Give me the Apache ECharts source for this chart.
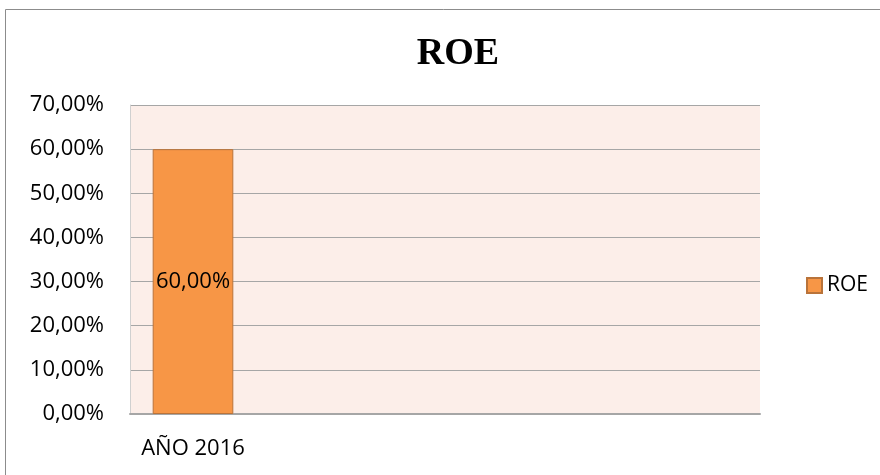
<!DOCTYPE html>
<html>
<head>
    <meta charset="utf-8" />
    <title>ROE</title>
    <script src="https://cdn.jsdelivr.net/npm/echarts@6/dist/echarts.min.js"></script>
    <style>
        body { margin: 0; background: #fff; }
        #chart { width: 880px; height: 475px; }
    </style>
</head>
<body>
    <div id="chart"></div>
    <script type="text/javascript">
        // datos
        var categorias = ['AÑO 2016', '', '', '', ''];
        var valoresROE = [60, null, null, null, null];
        var ticksY = [0, 10, 20, 30, 40, 50, 60, 70];

        function pct(v) {
            return v.toFixed(2).replace('.', ',') + '%';
        }

        var myChart = echarts.init(document.getElementById('chart'));

        myChart.setOption({
            backgroundColor: '#ffffff',
            animation: false,
            graphic: [{
                type: 'rect',
                shape: { x: 5.5, y: 9.5, width: 900, height: 500 },
                style: { fill: 'none', stroke: '#8c8c8c', lineWidth: 1 },
                silent: true
            }],
            title: {
                text: 'ROE',
                left: 453,
                top: 30,
                textAlign: 'center',
                textStyle: {
                    fontFamily: 'Liberation Serif',
                    fontWeight: 'bold',
                    fontSize: 38,
                    color: '#000'
                }
            },
            legend: {
                data: ['ROE'],
                left: 801,
                top: 270,
                itemWidth: 15,
                itemHeight: 15,
                itemGap: 6,
                icon: 'rect',
                textStyle: { fontFamily: 'Open Sans', fontSize: 21, color: '#000' }
            },
            grid: {
                left: 130,
                right: 120,
                top: 105,
                bottom: 61,
                show: true,
                backgroundColor: '#FCEEE9',
                borderWidth: 0
            },
            xAxis: {
                type: 'category',
                data: categorias,
                axisTick: { show: false },
                axisLine: { show: true, lineStyle: { color: '#a6a6a6', width: 2 } },
                axisLabel: {
                    margin: 24,
                    fontFamily: 'Open Sans',
                    fontSize: 22,
                    color: '#000'
                }
            },
            yAxis: {
                type: 'value',
                min: ticksY[0],
                max: ticksY[ticksY.length - 1],
                interval: 10,
                axisLine: { show: true, lineStyle: { color: '#d0d0d0', width: 1 } },
                axisTick: { show: false },
                splitLine: { show: true, lineStyle: { color: '#a6a6a6', width: 1 } },
                axisLabel: {
                    margin: 26,
                    fontFamily: 'Open Sans',
                    fontSize: 22,
                    color: '#000',
                    formatter: pct
                }
            },
            series: [{
                name: 'ROE',
                type: 'bar',
                data: valoresROE,
                barWidth: '64%',
                itemStyle: {
                    color: '#F79646',
                    borderColor: '#B9733A',
                    borderWidth: 1
                },
                label: {
                    show: true,
                    position: 'inside',
                    fontFamily: 'Open Sans',
                    fontSize: 22,
                    color: '#000',
                    formatter: function (p) { return pct(p.value); }
                }
            }]
        });
    </script>
</body>
</html>
